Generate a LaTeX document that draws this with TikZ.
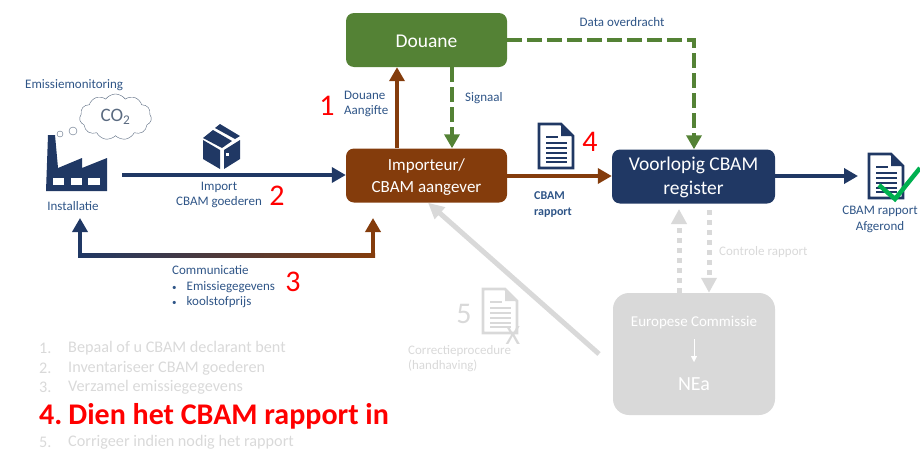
\documentclass[tikz,border=0pt]{standalone}
\usepackage{fontspec}
\setmainfont{Carlito}
\usetikzlibrary{arrows.meta,shapes.symbols}

\definecolor{navy}{HTML}{203864}
\definecolor{brownbox}{HTML}{843C0C}
\definecolor{greenbox}{HTML}{548235}
\definecolor{fadegray}{HTML}{D9D9D9}
\definecolor{labelblue}{HTML}{2F5587}
\definecolor{okgreen}{HTML}{00B050}
\definecolor{cloudgray}{HTML}{5A6A80}

\tikzset{
  box/.style={rounded corners=8pt, minimum width=161pt, minimum height=54pt, inner sep=0pt},
  boxtekst/.style={text=white, align=center, inner sep=0pt, font=\fontsize{19.5}{24}\selectfont},
  lbl/.style={text=labelblue, inner sep=0pt, font=\fontsize{13}{15.5}\selectfont},
  grayl/.style={lbl, text=fadegray},
  nr/.style={text=red, inner sep=0pt, font=\fontsize{30}{30}\selectfont},
  stepl/.style={anchor=west, text=fadegray, inner sep=0pt, font=\fontsize{16.2}{16}\selectfont},
  pijl/.style={line width=3.8pt, -{Triangle[length=14pt,width=15pt]}},
  streep/.style={pijl, line width=4.4pt, dash pattern=on 15pt off 5pt},
  stip/.style={line width=5pt, fadegray, dash pattern=on 5pt off 5pt, -{Triangle[length=15pt,width=15pt]}}
}

% Document-icoon
\newcommand{\docicon}[2]{
\begin{scope}[shift={(#1)}, #2]
\draw[line width=2.8pt, line join=miter] (0,0) -- (22,0) -- (34,12) -- (34,44) -- (0,44) -- cycle;
\fill (22,0) -- (34,12) -- (22,12) -- cycle;
\draw[line width=2pt] (7,13) -- (19,13);
\foreach \y in {19,24,29,34,38} \draw[line width=2pt] (7,\y) -- (28,\y);
\end{scope}
}
\newcommand{\klein}{{\fontsize{9}{9}\selectfont\textbullet}\hspace{10pt}}

\begin{document}
\begin{tikzpicture}[x=1pt,y=-1pt]
\useasboundingbox (0,0) rectangle (920,450);

% Vakken
\node[box, fill=greenbox] (douane) at (426.5,40) {};
\node[box, fill=brownbox] (importeur) at (426.5,175.5) {};
\node[box, fill=navy, minimum width=163pt] (register) at (693.5,176.5) {};
\node[box, fill=fadegray, minimum width=162pt, minimum height=122pt, rounded corners=16pt] (nea) at (694,354) {};
\node[boxtekst] (douanetekst) at (426.5,41) {Douane};
\node[boxtekst, font=\fontsize{17}{22}\selectfont] (importeurtekst) at (426.5,177) {Importeur/\\CBAM aangever};
\node[boxtekst] (registertekst) at (693.5,177.5) {Voorlopig CBAM\\register};
\node[boxtekst, font=\fontsize{15}{15}\selectfont] (commissie) at (694,323) {Europese Commissie};
\node[boxtekst, font=\fontsize{20}{20}\selectfont] (neatekst) at (694,384) {NEa};
\draw[white, -{Triangle[length=6pt,width=6pt]}] (694,339) -- (694,362);

% Fabriek
\coordinate (fabriek) at (73,206);
\fill[navy] (46,191) -- (48,135) -- (55,135) -- (58,168) -- (82,158) -- (82,168) -- (107,158) -- (107,191) -- cycle;
\fill[white] (53,178) rectangle (64,185);
\fill[white] (71,178) rectangle (82,185);
\fill[white] (88,178) rectangle (100,185);
\draw[cloudgray] (60,134) circle (3);
\draw[cloudgray] (73,131) circle (4);
\node[cloud, draw=cloudgray, cloud puffs=11, cloud puff arc=110, aspect=1.6, minimum width=72pt, minimum height=46pt, inner sep=0pt, text=cloudgray, font=\fontsize{19}{20}\selectfont] (wolk) at (115.5,117) {CO\textsubscript{2}};

% Doos
\fill[navy] (203,140) -- (220,150) -- (220,169) -- (203,159) -- cycle;
\fill[navy] (224,150) -- (240,140) -- (240,159) -- (224,169) -- cycle;
\fill[navy] (203,138) -- (213,130) -- (232,141) -- (222,148) -- cycle;
\fill[navy] (215,128) -- (220,124) -- (240,136) -- (235,139) -- cycle;
\fill[white] (226,153) rectangle (229,156);

% Documenten
\docicon{539,124}{navy}
\docicon{869,154}{navy}
\docicon{483,289}{fadegray}
\draw[okgreen, line width=4.5pt] (879,185) -- (895,199) -- (920,168);

% Pijlen
\coordinate (importstart) at (122,175);
\draw[pijl, navy] (importstart) -- (importeur.west |- importstart);
\draw[pijl, brownbox] (importeur.north -| 397,0) -- (douane.south -| 397,0);
\draw[streep, greenbox] (douane.south -| 452,0) -- (importeur.north -| 452,0);
\draw[streep, greenbox] (douane.east) -- (694,40) -- (register.north -| 694,0);
\draw[pijl, brownbox] (importeur.east |- 0,176) -- (register.west |- 0,176);
\coordinate (klaar) at (858,176);
\draw[pijl, navy] (register.east |- klaar) -- (klaar);

% Communicatie
\coordinate (instpijl) at (80,218);
\coordinate (imppijl) at (373,218);
\shade[left color=navy, right color=brownbox] (78,253) rectangle (375,257);
\draw[pijl, navy] (80,255) -- (instpijl);
\draw[pijl, brownbox] (373,255) -- (imppijl);

% Grijze pijlen
\draw[stip] (nea.north -| 679,0) -- (679,209);
\draw[stip] (709,210) -- (nea.north -| 709,0);
\coordinate (correctie) at (599,354);
\draw[line width=5pt, fadegray, -{Triangle[length=16pt,width=15pt]}] (correctie) -- (importeur.south -| 428,0);

% Teksten
\node[lbl, anchor=west] (monitoring) at (25,85) {Emissiemonitoring};
\node[lbl] (installatie) at (fabriek) {Installatie};
\node[lbl, align=center] (import) at (219,195) {Import\\CBAM goederen};
\node[lbl, align=left, anchor=west] (aangifte) at (344,104) {Douane\\Aangifte};
\node[lbl, anchor=west] (signaal) at (465,98.5) {Signaal};
\node[lbl, anchor=center] (overdracht) at (622,22.5) {Data overdracht};
\node[lbl, align=left, anchor=west, font=\bfseries\fontsize{12}{15.5}\selectfont] (rapport) at (534,204.5) {CBAM\\rapport};
\node[lbl, align=center] (afgerond) at (880,219.5) {CBAM rapport\\Afgerond};
\node[lbl, anchor=west] (communicatie) at (172,270.5) {Communicatie};
\node[lbl, anchor=west] (gegevens) at (172,287) {\klein Emissiegegevens};
\node[lbl, anchor=west] (prijs) at (172,302) {\klein koolstofprijs};
\node[grayl, anchor=west] (controle) at (719,252.5) {Controle rapport};
\node[grayl, align=left, anchor=west] (procedure) at (408,358.5) {Correctieprocedure\\(handhaving)};
\node[inner sep=0pt, text=fadegray, font=\fontsize{28}{28}\selectfont] (kruis) at (513,336) {X};

% Nummers
\node[nr] (n1) at (327,106) {1};
\node[nr] (n2) at (277,196) {2};
\node[nr] (n3) at (293,282) {3};
\node[nr] (n4) at (590,142) {4};
\node[nr, text=fadegray] (n5) at (464,314) {5};

% Stappen
\foreach \nummer/\yy/\tekst in {1/348.5/Bepaal of u CBAM declarant bent, 2/368.5/Inventariseer CBAM goederen, 3/387.5/Verzamel emissiegegevens, 5/442.5/Corrigeer indien nodig het rapport}{
  \node[stepl] (nummer\nummer) at (39,\yy) {\nummer.};
  \node[stepl] (stap\nummer) at (68,\yy) {\tekst};
}
\node[anchor=west, text=red, inner sep=0pt, font=\bfseries\fontsize{30}{30}\selectfont] (stap4) at (39,416) {4.\hspace{6pt}Dien het CBAM rapport in};
\end{tikzpicture}
\end{document}
